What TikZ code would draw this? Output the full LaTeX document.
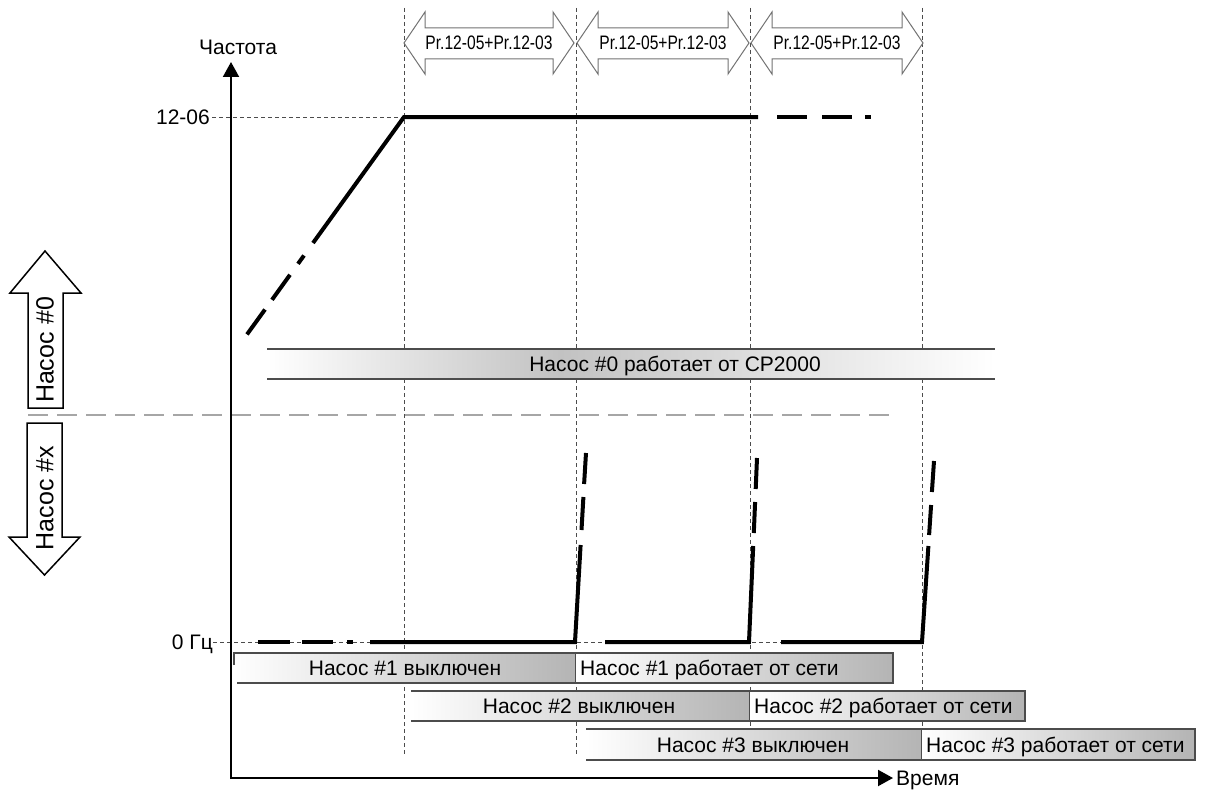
\documentclass[tikz,border=0pt]{standalone}
\usepackage{graphicx}
\usepackage{fontspec}
\setmainfont{Liberation Sans}
\usetikzlibrary{arrows.meta}
\definecolor{barg}{HTML}{B4B4B4}
\definecolor{cpg}{HTML}{C2C2C2}
\begin{document}
\begin{tikzpicture}[x=1pt,y=-1pt,
  lbl/.style={font=\fontsize{21}{25}\selectfont, inner sep=0pt},
  prl/.style={font=\fontsize{19.5}{22}\selectfont, inner sep=0pt, anchor=base},
  vlbl/.style={font=\fontsize{25}{30}\selectfont, inner sep=0pt, rotate=90},
  sig/.style={line width=4pt, line cap=butt, line join=miter},
  guide/.style={draw=black!70, line width=1pt, dash pattern=on 4pt off 3pt},
  bord/.style={draw=black!70, line width=1.3pt},
  tarrow/.style={draw=black!55, fill=white, line width=1pt},
  sarrow/.style={draw=black, fill=white, line width=1.5pt},
  axis/.style={line width=2pt, -{Triangle[length=15pt,width=16pt]}},
]
\useasboundingbox (0,0) rectangle (1208,792);
% guide lines
\foreach \x in {404,576,750,922} \draw[guide] (\x,8) -- (\x,756);
\draw[guide] (212,117) -- (404,117);
\draw[guide] (213,642) -- (922,642);
\draw[draw=black!35, line width=2.5pt, dash pattern=on 20pt off 9pt] (28,415) -- (897,415);
% CP2000 bar
\shade[left color=white, right color=cpg] (267,349) rectangle (560,379);
\shade[left color=cpg, right color=white] (560,349) rectangle (995,379);
\draw[bord] (267,349) -- (995,349);
\draw[bord] (267,379) -- (995,379);
\node[lbl, anchor=base] (cp) at (675,371.5) {Насос \#0 работает от CP2000};
% row 1
\shade[left color=white, right color=barg] (234,653) rectangle (576,683);
\draw[bord] (234,665) -- (234,653) -- (576,653) -- (576,683) -- (237,683);
\shade[left color=white, right color=barg] (576,653) rectangle (893,683);
\draw[bord] (576,653) -- (893,653) -- (893,683) -- (576,683);
% row 2
\shade[left color=white, right color=barg] (411,691) rectangle (750,721);
\draw[bord] (411,691) -- (750,691) -- (750,721) -- (411,721);
\shade[left color=white, right color=barg] (750,691) rectangle (1025,721);
\draw[bord] (750,691) -- (1025,691) -- (1025,721) -- (750,721);
% row 3
\shade[left color=white, right color=barg] (586,729) rectangle (922,760);
\draw[bord] (586,729) -- (922,729) -- (922,760) -- (586,760);
\shade[left color=white, right color=barg] (922,729) rectangle (1195,760);
\draw[bord] (922,729) -- (1195,729) -- (1195,760) -- (922,760);
\node[lbl, anchor=base] (b1off) at (405,675.5) {Насос \#1 выключен};
\node[lbl, anchor=base west] (b1on) at (580,675.5) {Насос \#1 работает от сети};
\node[lbl, anchor=base] (b2off) at (579,713.5) {Насос \#2 выключен};
\node[lbl, anchor=base west] (b2on) at (754,713.5) {Насос \#2 работает от сети};
\node[lbl, anchor=base] (b3off) at (753,752) {Насос \#3 выключен};
\node[lbl, anchor=base west] (b3on) at (926,752) {Насос \#3 работает от сети};
% signal: ramp and plateau
\draw[sig] (313,243) -- (404,117) -- (758,117);
\draw[sig] (304,255.5) -- (298,263.8);
\draw[sig] (290,274.8) -- (272,299.8);
\draw[sig] (265,309.5) -- (247,334.4);
\draw[sig] (777,117) -- (807,117);
\draw[sig] (822,117) -- (852,117);
\draw[sig] (865,117) -- (871,117);
% signal: baseline and spikes
\draw[sig] (258,642) -- (290,642);
\draw[sig] (302,642) -- (333,642);
\draw[sig] (347,642) -- (353,642);
\draw[sig] (370,642) -- (575,642) -- (580.6,545);
\draw[sig] (581.5,530) -- (583.4,497);
\draw[sig] (584.1,484) -- (586,453);
\draw[sig] (605,642) -- (749,642) -- (753.2,546);
\draw[sig] (753.8,533) -- (755.1,502);
\draw[sig] (755.7,489) -- (757,458);
\draw[sig] (781,642) -- (922,642) -- (928.4,546);
\draw[sig] (929.1,535) -- (931.1,505);
\draw[sig] (931.9,492) -- (934,461);
% top double arrows
\draw[tarrow] (404,43) -- (425,12) -- (425,28) -- (553,28) -- (553,12) -- (574,43) -- (553,74) -- (553,59) -- (425,59) -- (425,74) -- cycle;
\draw[tarrow] (577,43) -- (598,12) -- (598,28) -- (728,28) -- (728,12) -- (749,43) -- (728,74) -- (728,59) -- (598,59) -- (598,74) -- cycle;
\draw[tarrow] (751,43) -- (772,12) -- (772,28) -- (902,28) -- (902,12) -- (923,43) -- (902,74) -- (902,59) -- (772,59) -- (772,74) -- cycle;
\node[prl] (pr1) at (489,50) {\scalebox{0.8}[1]{Pr.12-05+Pr.12-03}};
\node[prl] (pr2) at (663,50) {\scalebox{0.8}[1]{Pr.12-05+Pr.12-03}};
\node[prl] (pr3) at (837,50) {\scalebox{0.8}[1]{Pr.12-05+Pr.12-03}};
% left arrows
\draw[sarrow] (45,251) -- (81,293) -- (63,293) -- (63,408) -- (28,408) -- (28,293) -- (10,293) -- cycle;
\draw[sarrow] (27,423) -- (62,423) -- (62,537) -- (80,537) -- (44.5,575) -- (9,537) -- (27,537) -- cycle;
\node[vlbl] (p0) at (45,350) {Насос \#0};
\node[vlbl] (px) at (45,498) {Насос \#x};
% axes
\coordinate (O) at (231,779);
\coordinate (ytip) at (231,62);
\coordinate (xtip) at (893,778);
\draw[axis] (O) -- (ytip);
\draw[axis] (230,778) -- (xtip);
% axis labels
\node[lbl, anchor=base] (fq) at (238,54.5) {Частота};
\node[lbl, anchor=base east] (l1206) at (210,124.5) {12-06};
\node[lbl, anchor=base east] (l0) at (213,649.5) {0 Гц};
\node[lbl, anchor=base west] (tm) at (896,785.5) {Время};
\end{tikzpicture}
\end{document}
